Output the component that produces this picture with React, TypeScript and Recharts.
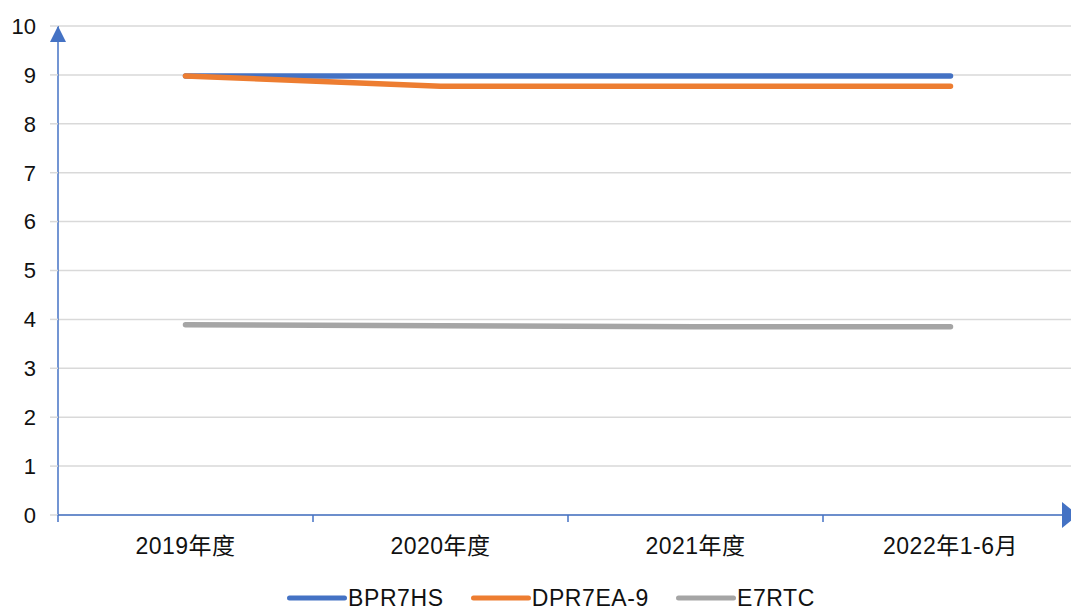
import React from "react";
import { LineChart, Line, XAxis, YAxis, CartesianGrid, Legend } from "recharts";

const categories = ["2019年度", "2020年度", "2021年度", "2022年1-6月"];
const bpr7hs = [8.98, 8.98, 8.98, 8.98];
const dpr7ea9 = [8.98, 8.77, 8.77, 8.77];
const e7rtc = [3.89, 3.87, 3.85, 3.85];
const yTicks = [0, 1, 2, 3, 4, 5, 6, 7, 8, 9, 10];

const seriesDefs = [
  { key: "BPR7HS", values: bpr7hs, color: "#4472C4" },
  { key: "DPR7EA-9", values: dpr7ea9, color: "#ED7D31" },
  { key: "E7RTC", values: e7rtc, color: "#A5A5A5" },
];

const data = categories.map((c, i) => {
  const row: Record<string, string | number> = { name: c };
  seriesDefs.forEach((s) => {
    row[s.key] = s.values[i];
  });
  return row;
});

const FONT = "Arial, 'Liberation Sans', 'Noto Sans CJK SC', sans-serif";
const AXIS = "#4472C4";
const GRID = "#D9D9D9";

const CHART_W = 1100;
const CHART_H = 608;
const MARGIN = { top: 26, right: 22, left: 0, bottom: 0 };
const Y_W = 58;
const PLOT_W = CHART_W - MARGIN.left - MARGIN.right - Y_W;
const HALF_BAND = PLOT_W / categories.length / 2;

const XTick = (props: any) => {
  const { x, y, payload, index } = props;
  const off = HALF_BAND;
  const axisY = y - 23;
  return (
    <g>
      <line x1={x - off} x2={x - off} y1={axisY} y2={axisY + 7} stroke={AXIS} strokeWidth={1.5} />
      {index === categories.length - 1 && (
        <line x1={x + off} x2={x + off} y1={axisY} y2={axisY + 7} stroke={AXIS} strokeWidth={1.5} />
      )}
      <text x={x} y={y} dy="0.71em" textAnchor="middle" fill="#111" fontSize={23} letterSpacing={0.5} fontFamily={FONT}>
        {payload.value}
      </text>
    </g>
  );
};

const LegendContent = (props: any) => {
  const { payload } = props;
  return (
    <div
      style={{
        display: "flex",
        justifyContent: "center",
        alignItems: "center",
        height: 30,
        paddingLeft: 24,
        fontFamily: FONT,
        fontSize: 23,
        letterSpacing: 0.6,
        color: "#111",
      }}
    >
      {(payload || []).map((p: any, i: number) => (
        <div key={i} style={{ display: "flex", alignItems: "center", marginLeft: i === 0 ? 0 : 27, marginTop: 10 }}>
          <svg width={60} height={8} style={{ marginRight: 1 }}>
            <line x1={2.5} x2={57.5} y1={4} y2={4} stroke={p.color} strokeWidth={5} strokeLinecap="round" />
          </svg>
          <span style={{ lineHeight: "22px" }}>{p.value}</span>
        </div>
      ))}
    </div>
  );
};

export default function App() {
  return (
    <div style={{ position: "absolute", left: 0, top: 0, width: 1071, height: 608, overflow: "hidden", background: "#fff" }}>
      <LineChart width={CHART_W} height={CHART_H} data={data} margin={MARGIN}>
        <defs>
          <marker id="arrowY" markerUnits="userSpaceOnUse" viewBox="0 0 16 16" markerWidth={16} markerHeight={16} refX={16} refY={8} orient="auto-start-reverse">
            <path d="M0,0 L16,8 L0,16 Z" fill={AXIS} />
          </marker>
          <marker id="arrowX" markerUnits="userSpaceOnUse" viewBox="0 0 16 26" markerWidth={16} markerHeight={26} refX={16} refY={13} orient="auto">
            <path d="M0,0 L16,13 L0,26 Z" fill={AXIS} />
          </marker>
        </defs>
        <CartesianGrid vertical={false} stroke={GRID} strokeWidth={1.5} />
        <XAxis
          dataKey="name"
          height={63}
          padding={{ left: HALF_BAND, right: HALF_BAND }}
          axisLine={{ stroke: AXIS, strokeWidth: 1.5, markerEnd: "url(#arrowX)" }}
          tickLine={false}
          tickSize={7}
          tickMargin={16}
          tick={<XTick />}
          interval={0}
        />
        <YAxis
          domain={[0, 10]}
          ticks={yTicks}
          width={Y_W}
          axisLine={{ stroke: AXIS, strokeWidth: 1.5, markerStart: "url(#arrowY)" }}
          tickLine={{ stroke: GRID, strokeWidth: 1.5 }}
          tickSize={8}
          tickMargin={14}
          tick={{ fill: "#111", fontSize: 22, fontFamily: FONT }}
          interval={0}
        />
        <Legend verticalAlign="bottom" content={<LegendContent />} />
        {seriesDefs.map((s) => (
          <Line
            key={s.key}
            type="linear"
            dataKey={s.key}
            stroke={s.color}
            strokeWidth={5.5}
            strokeLinecap="round"
            dot={false}
            activeDot={false}
            isAnimationActive={false}
          />
        ))}
      </LineChart>
    </div>
  );
}
